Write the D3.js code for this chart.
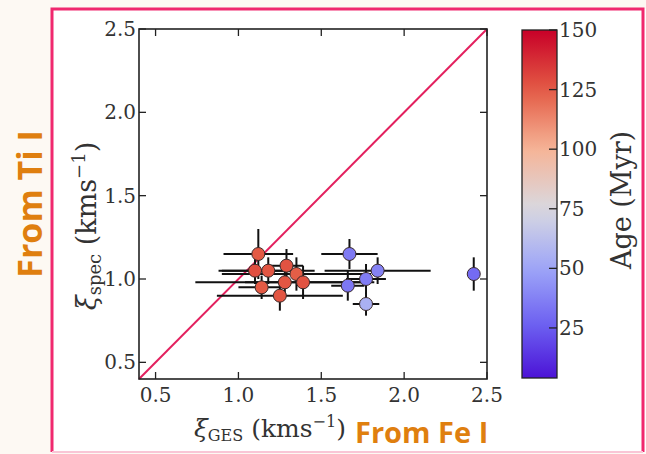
<!DOCTYPE html>
<html>
<head>
<meta charset="utf-8">
<script src="https://cdn.jsdelivr.net/npm/d3@7"></script>
<style>
  body { margin: 0; background: #fdf9f3; }
  svg { display: block; }
</style>
</head>
<body>
<div class="graph"></div>
<script>
// xi_GES vs xi_spec, points coloured by age

var xi_ges   = [1.12, 1.10, 1.18, 1.29, 1.35, 1.28, 1.39, 1.14, 1.25, 1.67, 1.84, 1.77, 1.66, 1.77, 2.42];
var xi_spec  = [1.15, 1.05, 1.05, 1.08, 1.03, 0.98, 0.98, 0.95, 0.90, 1.15, 1.05, 1.00, 0.96, 0.85, 1.03];
var err_ges  = [0.21, 0.22, 0.28, 0.10, 0.45, 0.54, 0.35, 0.14, 0.38, 0.17, 0.32, 0.12, 0.10, 0.08, 0.02];
var err_spec = [0.15, 0.08, 0.08, 0.10, 0.10, 0.08, 0.10, 0.07, 0.09, 0.09, 0.08, 0.09, 0.09, 0.07, 0.10];
var ages     = [125, 128, 126, 127, 124, 126, 127, 125, 126, 35, 38, 36, 34, 55, 30];

var axis_ticks = [0.5, 1.0, 1.5, 2.0, 2.5];
var age_ticks = [25, 50, 75, 100, 125, 150];

var width = 646, height = 454;

var svg = d3.select('.graph').append('svg')
    .attr('width', width)
    .attr('height', height);

// slide frame
svg.append('rect')
    .attr('x', 52).attr('y', 9)
    .attr('width', 594).attr('height', 443)
    .attr('fill', '#ffffff')
    .attr('stroke', 'none');
svg.append('path')
    .attr('d', 'M52,452 L52,9 L643,9 L643,452')
    .attr('fill', 'none')
    .attr('stroke', '#f0286e')
    .attr('stroke-width', 3);
svg.append('line')
    .attr('x1', 52).attr('x2', 643).attr('y1', 452).attr('y2', 452)
    .attr('stroke', '#f9c6d6').attr('stroke-width', 2);

var plot = { left: 139, right: 487, top: 29, bottom: 379 };

var xScale = d3.scaleLinear().domain([0.4, 2.5]).range([plot.left, plot.right]);
var yScale = d3.scaleLinear().domain([0.4, 2.5]).range([plot.bottom, plot.top]);

// age colour map, blue -> grey -> red
var color_scale = d3.scaleLinear()
    .domain([4, 25, 50, 75, 100, 125, 150])
    .range(['#4c12d6', '#6a5cf0', '#9ea6f8', '#d9d9e0', '#f6b497', '#e35a44', '#c80028'])
    .interpolate(d3.interpolateRgb);

var serif = "'DejaVu Serif', serif";
var tick_len = 7;

// one-to-one line
svg.append('line')
    .attr('x1', xScale(0.4)).attr('y1', yScale(0.4))
    .attr('x2', xScale(2.5)).attr('y2', yScale(2.5))
    .attr('stroke', '#e3205e')
    .attr('stroke-width', 2);

var data = xi_ges.map(function(d, i) {
    return { x: d, y: xi_spec[i], ex: err_ges[i], ey: err_spec[i], age: ages[i] };
});

// error bars
var bars = svg.append('g').attr('class', 'errors')
    .attr('stroke', '#111').attr('stroke-width', 2);
data.forEach(function(d) {
    bars.append('line')
        .attr('x1', xScale(d.x - d.ex)).attr('x2', xScale(d.x + d.ex))
        .attr('y1', yScale(d.y)).attr('y2', yScale(d.y));
    bars.append('line')
        .attr('x1', xScale(d.x)).attr('x2', xScale(d.x))
        .attr('y1', yScale(d.y - d.ey)).attr('y2', yScale(d.y + d.ey));
});

// points
svg.append('g').selectAll('circle')
    .data(data)
    .enter()
    .append('circle')
    .attr('cx', function(d) { return xScale(d.x); })
    .attr('cy', function(d) { return yScale(d.y); })
    .attr('r', 6.5)
    .attr('fill', function(d) { return color_scale(d.age); })
    .attr('stroke', '#3a2a2a')
    .attr('stroke-width', 1);

// frame and inward ticks on all four sides
svg.append('rect')
    .attr('x', plot.left).attr('y', plot.top)
    .attr('width', plot.right - plot.left).attr('height', plot.bottom - plot.top)
    .attr('fill', 'none').attr('stroke', '#222').attr('stroke-width', 1.6);

var ticks = svg.append('g').attr('stroke', '#222').attr('stroke-width', 1.3);
axis_ticks.forEach(function(t) {
    var x = xScale(t), y = yScale(t);
    ticks.append('line').attr('x1', x).attr('x2', x).attr('y1', plot.bottom).attr('y2', plot.bottom - tick_len);
    ticks.append('line').attr('x1', x).attr('x2', x).attr('y1', plot.top).attr('y2', plot.top + tick_len);
    ticks.append('line').attr('x1', plot.left).attr('x2', plot.left + tick_len).attr('y1', y).attr('y2', y);
    ticks.append('line').attr('x1', plot.right).attr('x2', plot.right - tick_len).attr('y1', y).attr('y2', y);
});

// tick labels
svg.append('g').selectAll('text')
    .data(axis_ticks)
    .enter().append('text')
    .attr('x', function(d) { return xScale(d); })
    .attr('y', plot.bottom + 23)
    .attr('text-anchor', 'middle')
    .attr('font-family', serif).attr('font-size', 20).attr('fill', '#333')
    .text(function(d) { return d3.format('.1f')(d); });

svg.append('g').selectAll('text')
    .data(axis_ticks)
    .enter().append('text')
    .attr('x', plot.left - 3)
    .attr('y', function(d) { return yScale(d) + 7; })
    .attr('text-anchor', 'end')
    .attr('font-family', serif).attr('font-size', 20).attr('fill', '#333')
    .text(function(d) { return d3.format('.1f')(d); });

// axis titles
var xlab = svg.append('text')
    .attr('x', 270).attr('y', 437)
    .attr('text-anchor', 'middle')
    .attr('font-family', serif).attr('font-size', 25).attr('fill', '#333');
xlab.append('tspan').attr('font-style', 'italic').text('ξ');
xlab.append('tspan').attr('font-size', 16).attr('dy', 4).text('GES');
xlab.append('tspan').attr('dy', -4).text(' (kms');
xlab.append('tspan').attr('font-size', 16).attr('dy', -10).text('−1');
xlab.append('tspan').attr('dy', 10).text(')');

var ylab = svg.append('text')
    .attr('transform', 'translate(96,226) rotate(-90)')
    .attr('text-anchor', 'middle')
    .attr('font-family', serif).attr('font-size', 27).attr('fill', '#333');
ylab.append('tspan').attr('font-style', 'italic').text('ξ');
ylab.append('tspan').attr('font-size', 18).attr('dy', 5).text('spec');
ylab.append('tspan').attr('dy', -5).text(' (kms');
ylab.append('tspan').attr('font-size', 18).attr('dy', -11).text('−1');
ylab.append('tspan').attr('dy', 11).text(')');

// colour bar
var cbar = { x: 522, w: 35, top: 30, bottom: 378 };
var ageScale = d3.scaleLinear().domain([4, 150]).range([cbar.bottom, cbar.top]);

var defs = svg.append('defs');
var grad = defs.append('linearGradient')
    .attr('id', 'age-grad')
    .attr('x1', 0).attr('y1', 1).attr('x2', 0).attr('y2', 0);
d3.range(0, 1.0001, 0.05).forEach(function(t) {
    grad.append('stop')
        .attr('offset', t)
        .attr('stop-color', color_scale(4 + t * 146));
});

svg.append('rect')
    .attr('x', cbar.x).attr('y', cbar.top)
    .attr('width', cbar.w).attr('height', cbar.bottom - cbar.top)
    .attr('fill', 'url(#age-grad)')
    .attr('stroke', '#222').attr('stroke-width', 1.3);

var cbar_axis = svg.append('g');
age_ticks.forEach(function(t) {
    var y = ageScale(t);
    cbar_axis.append('line')
        .attr('x1', cbar.x + cbar.w - 8).attr('x2', cbar.x + cbar.w)
        .attr('y1', y).attr('y2', y)
        .attr('stroke', '#222').attr('stroke-width', 1.3);
    cbar_axis.append('text')
        .attr('x', cbar.x + cbar.w + 2).attr('y', y + 7)
        .attr('font-family', serif).attr('font-size', 20).attr('fill', '#333')
        .text(t);
});

svg.append('text')
    .attr('transform', 'translate(631,200) rotate(-90)')
    .attr('text-anchor', 'middle')
    .attr('font-family', serif).attr('font-size', 27).attr('fill', '#333')
    .text('Age (Myr)');

// slide annotations
svg.append('text')
    .attr('x', 355).attr('y', 443)
    .attr('font-family', "'Open Sans', sans-serif").attr('font-weight', 700)
    .attr('font-size', 29).attr('fill', '#df7f0f')
    .text('From Fe I');

svg.append('text')
    .attr('transform', 'translate(42,204) rotate(-90)')
    .attr('text-anchor', 'middle')
    .attr('font-family', "'Open Sans', sans-serif").attr('font-weight', 700)
    .attr('font-size', 34).attr('fill', '#df7f0f')
    .text('From Ti I');
</script>
</body>
</html>
